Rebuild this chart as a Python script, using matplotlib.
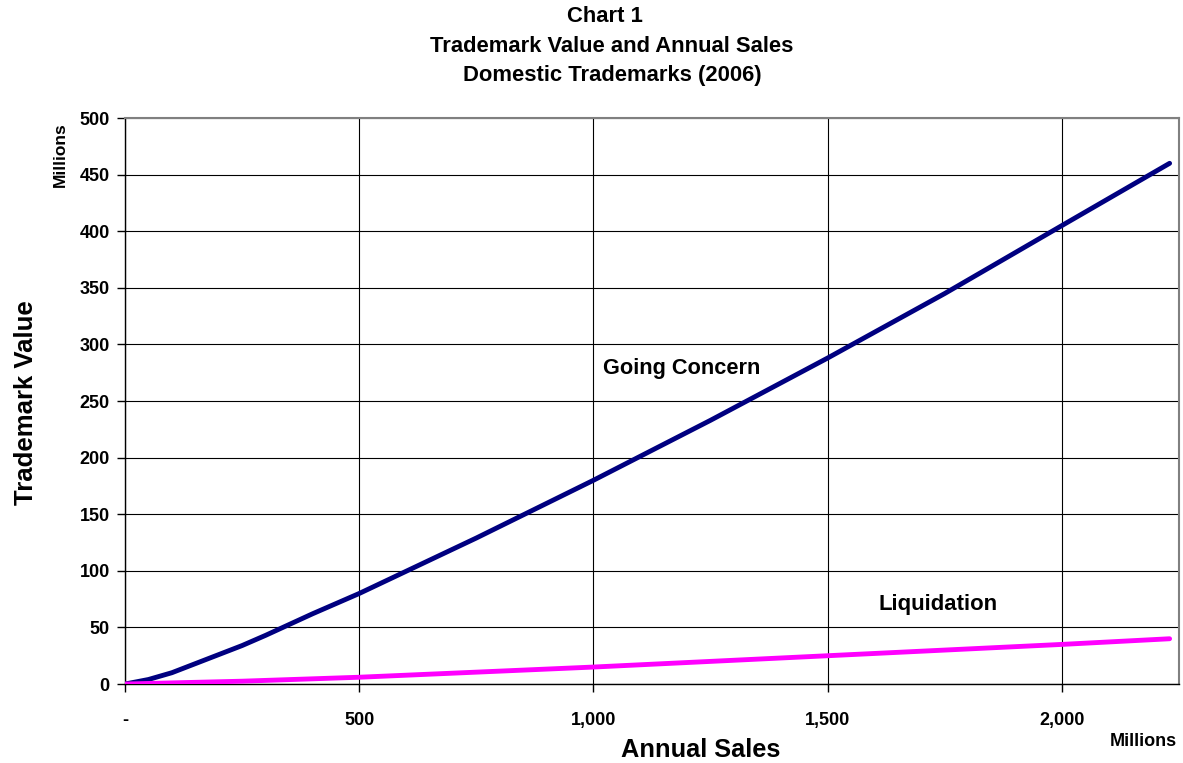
import matplotlib
matplotlib.use("Agg")
import matplotlib.pyplot as plt
from matplotlib.ticker import FuncFormatter

plt.rcParams['font.family'] = ['Liberation Sans', 'DejaVu Sans']

# Data (millions)
going_x = [0, 50, 100, 150, 200, 250, 300, 400, 500, 750, 1000, 1250, 1500, 1750, 2000, 2230]
going_y = [0, 4, 10, 18, 26, 34, 43, 62, 80, 129, 180, 233, 288, 345, 405, 460]
liq_x = [0, 250, 500, 1000, 1500, 2000, 2230]
liq_y = [0, 2.5, 6, 15, 25, 35, 40]
x_ticks = [0, 500, 1000, 1500, 2000]
y_ticks = list(range(0, 501, 50))

fig = plt.figure(figsize=(11.83, 7.63), dpi=100)
ax = fig.add_axes([0.1057, 0.1035, 0.8909, 0.7418])

ax.plot(going_x, going_y, color='#000080', lw=3.5, solid_capstyle='round',
        solid_joinstyle='round', zorder=3)
ax.plot(liq_x, liq_y, color='#FF00FF', lw=3.5, solid_capstyle='round',
        solid_joinstyle='round', zorder=3)

ax.set_xlim(0, 2250)
ax.set_ylim(0, 500)
ax.set_xticks(x_ticks)
ax.set_yticks(y_ticks)
ax.xaxis.set_major_formatter(FuncFormatter(lambda v, p: '-' if v == 0 else f'{int(v):,}'))
ax.grid(True, color='black', lw=0.8)
ax.set_axisbelow(True)
ax.tick_params(direction='out', length=6, width=1, colors='black', labelsize=13)
for lab in ax.get_xticklabels() + ax.get_yticklabels():
    lab.set_fontweight('bold')
ax.tick_params(axis='x', pad=14)
ax.tick_params(axis='y', pad=5)

for s in ['left', 'bottom']:
    ax.spines[s].set_color('black')
    ax.spines[s].set_linewidth(1)
for s in ['top', 'right']:
    ax.spines[s].set_color('#808080')
    ax.spines[s].set_linewidth(1.5)

ax.text(1020, 279, 'Going Concern', fontsize=15.7, fontweight='bold', va='center', ha='left')
ax.text(1609, 70, 'Liquidation', fontsize=15.9, fontweight='bold', va='center', ha='left')

tx = 612 / 1183
fig.text(tx - 0.006, 1 - 17 / 763, 'Chart 1', ha='center', va='center', fontsize=15.8, fontweight='bold')
fig.text(tx, 1 - 46 / 763, 'Trademark Value and Annual Sales', ha='center', va='center', fontsize=15.8, fontweight='bold')
fig.text(tx, 1 - 75 / 763, 'Domestic Trademarks (2006)', ha='center', va='center', fontsize=15.8, fontweight='bold')

fig.text(701 / 1183, 1 - 750 / 763, 'Annual Sales', ha='center', va='center', fontsize=18.3, fontweight='bold')
fig.text(26 / 1183, 1 - 403 / 763, 'Trademark Value', ha='center', va='center', fontsize=18.5, fontweight='bold', rotation=90)
fig.text(60 / 1183, 1 - 155 / 763, 'Millions', ha='center', va='center', fontsize=12.5, fontweight='bold', rotation=90)
fig.text(1143 / 1183, 1 - 742 / 763, 'Millions', ha='center', va='center', fontsize=13, fontweight='bold')

fig.savefig('out.png', dpi=100)
